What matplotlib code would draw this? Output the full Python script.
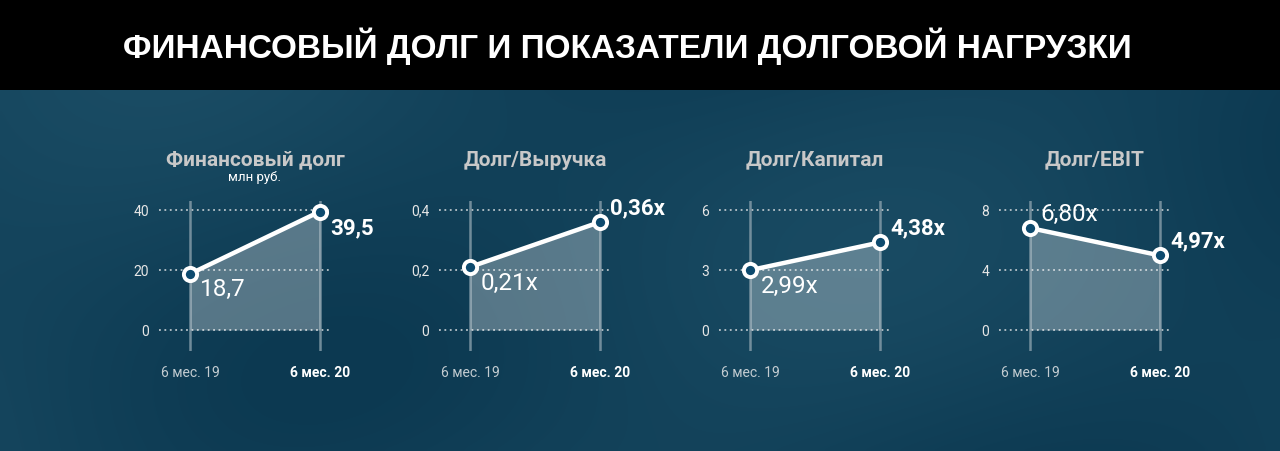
import numpy as np
import matplotlib
matplotlib.use("Agg")
import matplotlib.pyplot as plt
from matplotlib.colors import LinearSegmentedColormap

# data
periods = ["6 мес. 19", "6 мес. 20"]
panel_titles = ["Финансовый долг", "Долг/Выручка", "Долг/Капитал", "Долг/EBIT"]
fin_debt = [18.7, 39.5]
debt_revenue = [0.21, 0.36]
debt_capital = [2.99, 4.38]
debt_ebit = [6.80, 4.97]
value_labels = [["18,7", "39,5"], ["0,21x", "0,36x"], ["2,99x", "4,38x"], ["6,80x", "4,97x"]]
yticks = [[0, 20, 40], [0, 0.2, 0.4], [0, 3, 6], [0, 4, 8]]
ytick_labels = [["0", "20", "40"], ["0", "0,2", "0,4"], ["0", "3", "6"], ["0", "4", "8"]]
series = [fin_debt, debt_revenue, debt_capital, debt_ebit]

# label vertical offsets in pixels (negative = below point)
label_dy = [[-16, -17], [-16, 14], [-16, 14], [14, 14]]

W, H = 1280, 451
fig = plt.figure(figsize=(W / 100, H / 100), dpi=100)
fig.patch.set_facecolor("#133f57")

# background: soft dark teal shading
bg = fig.add_axes([0, 0, 1, 1])
xx, yy = np.meshgrid(np.linspace(0, 1, 320), np.linspace(0, 1, 113))
shade = 0.5 + 0.25 * np.sin(xx * 9 + yy * 3) + 0.2 * np.cos(xx * 4 - yy * 5) - 0.15 * xx
cmap = LinearSegmentedColormap.from_list("bg", ["#0c3951", "#1a4c64"])
bg.imshow(shade, cmap=cmap, aspect="auto", extent=[0, 1, 0, 1], interpolation="bicubic")
bg.axis("off")

# black title bar
bar = fig.add_axes([0, 1 - 90 / H, 1, 90 / H])
bar.set_facecolor("black")
bar.set_xticks([])
bar.set_yticks([])
for s in bar.spines.values():
    s.set_visible(False)
fig.text(627 / W, 1 - 46 / H, "ФИНАНСОВЫЙ ДОЛГ И ПОКАЗАТЕЛИ ДОЛГОВОЙ НАГРУЗКИ",
         color="white", fontsize=24, fontweight="bold", family="Liberation Sans",
         ha="center", va="center")

plt.rcParams["font.family"] = ["Roboto", "DejaVu Sans"]

panel_step = 280
x0_px = 190  # first point in panel 1
top_px, bot_px = 201, 351
ytop_px, y0_px = 210, 330

for i in range(4):
    px_a = x0_px + i * panel_step
    left_px = px_a - 31
    right_px = px_a + 142
    ax = fig.add_axes([left_px / W, 1 - bot_px / H, (right_px - left_px) / W, (bot_px - top_px) / H])
    ax.patch.set_alpha(0)
    # x scale: 0 -> px_a, 1 -> px_a+130
    ax.set_xlim(-31 / 130, 142 / 130)
    ymax_tick = yticks[i][-1]
    per_px = ymax_tick / (y0_px - ytop_px)
    ax.set_ylim(-(bot_px - y0_px) * per_px, ymax_tick + (ytop_px - top_px) * per_px)

    xs = [0, 1]
    ys = series[i]
    for t in yticks[i]:
        ax.axhline(t, color="#b9c4ca", lw=1.3, ls=(0, (1, 2)), zorder=1)
    for xv in xs:
        ax.axvline(xv, color="#8aa0ac", lw=1.8, alpha=0.8, zorder=2)
    ax.fill_between(xs, 0, ys, color="white", alpha=0.3, lw=0, zorder=2)
    ax.plot(xs, ys, color="white", lw=3.2, zorder=3, solid_capstyle="round")
    ax.plot(xs, ys, "o", ms=9.5, mfc="#0d4a6e", mec="white", mew=2.8, zorder=4)

    for j in range(2):
        ax.annotate(value_labels[i][j], (xs[j], ys[j]), xytext=(7.5, label_dy[i][j] * 0.72),
                    textcoords="offset points", color="white", va="center", ha="left",
                    fontsize=17.5 if j == 0 else 16, fontweight="normal" if j == 0 else "bold",
                    zorder=5)

    ax.set_yticks(yticks[i])
    ax.set_yticklabels(ytick_labels[i])
    ax.set_xticks(xs)
    ax.set_xticklabels(periods)
    ax.tick_params(length=0, labelsize=10)
    ax.tick_params(axis="y", pad=7, labelcolor="#e6e6e6")
    ax.tick_params(axis="x", pad=11)
    xl = ax.get_xticklabels()
    xl[0].set_color("#c3ccd1")
    xl[1].set_color("white")
    xl[1].set_fontweight("bold")
    for s in ax.spines.values():
        s.set_visible(False)

    cx = (px_a + 65) / W
    fig.text(cx, 1 - 160 / H, panel_titles[i], color="#c8c8c8", fontsize=15,
             fontweight="bold", ha="center", va="center")
    if i == 0:
        fig.text(cx, 1 - 178 / H, "млн руб.", color="white", fontsize=9.5,
                 ha="center", va="center")

fig.savefig("out.png", dpi=100, facecolor=fig.get_facecolor())
